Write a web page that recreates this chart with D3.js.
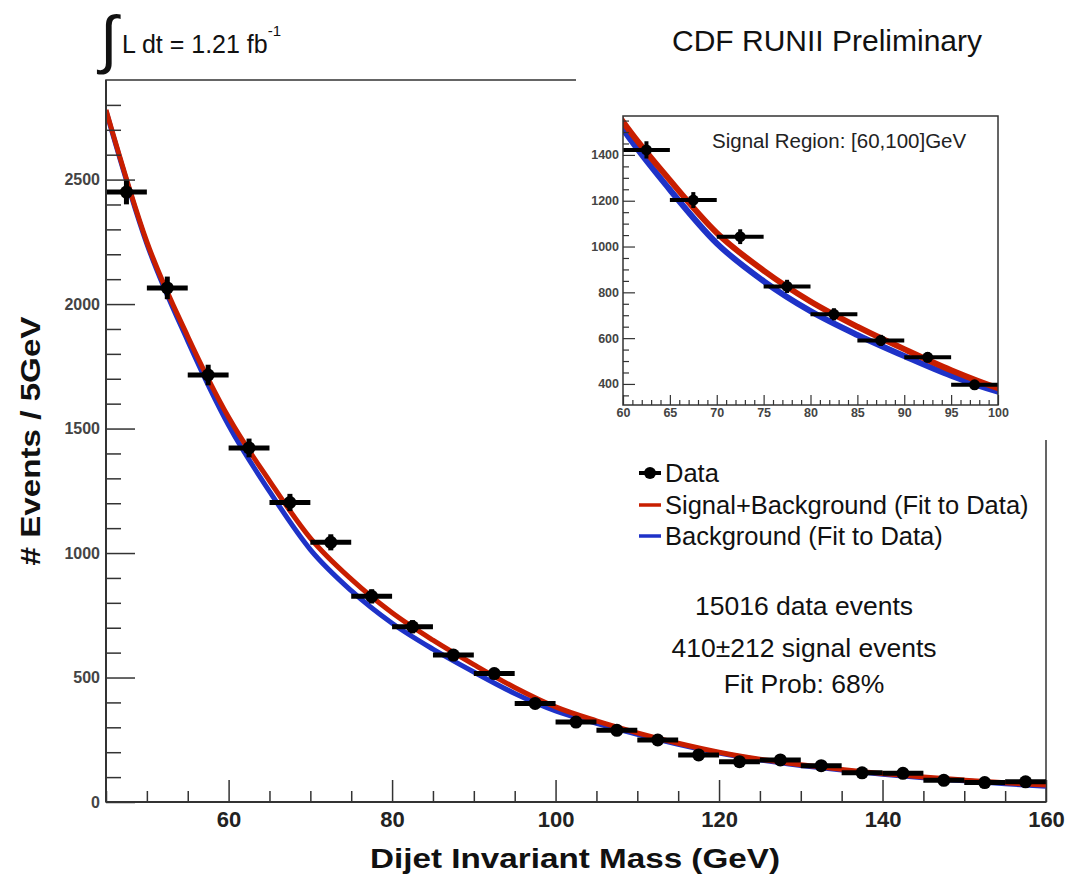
<!DOCTYPE html>
<html>
<head>
<meta charset="utf-8">
<script src="https://cdn.jsdelivr.net/npm/d3@7"></script>
<style>
  body { margin: 0; background: #fff; }
  svg text { font-family: "Liberation Sans", Arial, sans-serif; }
</style>
</head>
<body>
<div id="plot"></div>
<script>
// Dijet mass spectrum with fits, plus a zoomed inset of the signal region

// bin centres (5 GeV bins) and the counts in each bin
var binCenters = [47.5, 52.5, 57.5, 62.5, 67.5, 72.5, 77.5, 82.5, 87.5, 92.5, 97.5, 102.5,
  107.5, 112.5, 117.5, 122.5, 127.5, 132.5, 137.5, 142.5, 147.5, 152.5, 157.5];
var counts = [2450, 2065, 1715, 1422, 1203, 1043, 826, 704, 590, 516, 396, 321,
  288, 249, 189, 162, 169, 146, 117, 115, 87, 78, 81];

// fit curves
var fitMass = [45, 50, 55, 60, 65, 70, 75, 80, 85, 90, 95, 100, 105, 110, 115, 120,
  125, 130, 135, 140, 145, 150, 155, 160];
var sigBkg = [2780, 2250, 1870, 1545, 1290, 1060, 895, 760, 650, 552, 460, 382, 326,
  278, 236, 200, 172, 150, 131, 114, 100, 88, 77, 68];
var bkgOnly = [2776, 2242, 1852, 1513, 1248, 1014, 849, 718, 614, 522, 436, 366, 316,
  272, 232, 197, 169, 147, 128, 111, 97, 85, 73, 63];

// ticks
var xMajor = [60, 80, 100, 120, 140, 160];
var yMajor = [0, 500, 1000, 1500, 2000, 2500];
var insetXMajor = [60, 65, 70, 75, 80, 85, 90, 95, 100];
var insetYMajor = [400, 600, 800, 1000, 1200, 1400];

var statLines = ["15016 data events", "410\u00b1212 signal events", "Fit Prob: 68%"];
var legendLabels = ["Data", "Signal+Background (Fit to Data)", "Background (Fit to Data)"];

var width = 1066;
var height = 881;
var redCol = "#c81e00";
var blueCol = "#1e32c8";
var axisCol = "#333";

var svg = d3.select("#plot").append("svg")
  .attr("width", width)
  .attr("height", height);

var data = binCenters.map(function(m, i) {
  return { m: m, n: counts[i] };
});
var fitS = fitMass.map(function(m, i) { return { m: m, v: sigBkg[i] }; });
var fitB = fitMass.map(function(m, i) { return { m: m, v: bkgOnly[i] }; });

// ---------- main frame ----------
var xScale = d3.scaleLinear().domain([45, 160]).range([106, 1046]);
var yScale = d3.scaleLinear().domain([0, 2900]).range([802, 80]);

svg.append("clipPath").attr("id", "mainClip")
  .append("rect").attr("x", 106).attr("y", 80).attr("width", 940).attr("height", 722);

// frame (top + right), the inset pad later covers part of it
svg.append("rect")
  .attr("x", 106).attr("y", 80).attr("width", 940).attr("height", 722)
  .attr("fill", "none").attr("stroke", axisCol).attr("stroke-width", 1.5);

var line = d3.line()
  .x(function(d) { return xScale(d.m); })
  .y(function(d) { return yScale(d.v); })
  .curve(d3.curveMonotoneX);

var curves = svg.append("g").attr("clip-path", "url(#mainClip)");
curves.append("path").datum(fitB)
  .attr("d", line).attr("fill", "none")
  .attr("stroke", blueCol).attr("stroke-width", 5);
curves.append("path").datum(fitS)
  .attr("d", line).attr("fill", "none")
  .attr("stroke", redCol).attr("stroke-width", 5);

// data points with errors
function drawPoints(g, xs, ys, r, lw) {
  var pts = g.selectAll("g.pt").data(data).enter()
    .filter(function(d) { return d.m > xs.domain()[0] && d.m < xs.domain()[1]; })
    .append("g").attr("class", "pt");
  pts.append("line")
    .attr("x1", function(d) { return xs(d.m - 2.5); })
    .attr("x2", function(d) { return xs(d.m + 2.5); })
    .attr("y1", function(d) { return ys(d.n); })
    .attr("y2", function(d) { return ys(d.n); })
    .attr("stroke", "#000").attr("stroke-width", lw);
  pts.append("line")
    .attr("x1", function(d) { return xs(d.m); })
    .attr("x2", function(d) { return xs(d.m); })
    .attr("y1", function(d) { return ys(d.n - Math.sqrt(d.n)); })
    .attr("y2", function(d) { return ys(d.n + Math.sqrt(d.n)); })
    .attr("stroke", "#000").attr("stroke-width", lw);
  pts.append("circle")
    .attr("cx", function(d) { return xs(d.m); })
    .attr("cy", function(d) { return ys(d.n); })
    .attr("r", r).attr("fill", "#000");
}
drawPoints(svg.append("g"), xScale, yScale, 6.5, 5);

// axes: majors + minors, ticks pointing inward
var yMinorVals = d3.range(0, 2900, 100).filter(function(v) { return v % 500 !== 0; });
var xMinorVals = d3.range(45, 161, 5).filter(function(v) { return v % 20 !== 0; });

var yAxisG = svg.append("g").attr("transform", "translate(106,0)")
  .call(d3.axisLeft(yScale).tickValues(yMajor).tickSizeInner(-29).tickSizeOuter(0).tickPadding(6)
    .tickFormat(d3.format("d")));
svg.append("g").attr("transform", "translate(106,0)")
  .call(d3.axisLeft(yScale).tickValues(yMinorVals).tickSizeInner(-15).tickSizeOuter(0).tickFormat(""));

var xAxisG = svg.append("g").attr("transform", "translate(0,802)")
  .call(d3.axisBottom(xScale).tickValues(xMajor).tickSizeInner(-22).tickSizeOuter(0).tickPadding(9));
svg.append("g").attr("transform", "translate(0,802)")
  .call(d3.axisBottom(xScale).tickValues(xMinorVals).tickSizeInner(-11).tickSizeOuter(0).tickFormat(""));

svg.selectAll(".domain").remove();
svg.selectAll(".tick line").attr("stroke", axisCol).attr("stroke-width", 1.5);
yAxisG.selectAll("text").attr("font-size", 16).attr("font-weight", "bold").attr("fill", "#444");
xAxisG.selectAll("text").attr("font-size", 22).attr("font-weight", "bold").attr("fill", "#222");

// axis lines drawn last so they sit over the tick ends
svg.append("line").attr("x1", 106).attr("x2", 106).attr("y1", 80).attr("y2", 802)
  .attr("stroke", axisCol).attr("stroke-width", 2);
svg.append("line").attr("x1", 106).attr("x2", 1046).attr("y1", 802).attr("y2", 802)
  .attr("stroke", axisCol).attr("stroke-width", 2);

// axis titles - the original font is a wide one, so stretch to its length
svg.append("text")
  .attr("x", 575).attr("y", 868)
  .attr("text-anchor", "middle")
  .attr("font-size", 27).attr("font-weight", "bold").attr("fill", "#111")
  .attr("textLength", 410).attr("lengthAdjust", "spacingAndGlyphs")
  .text("Dijet Invariant Mass (GeV)");
svg.append("text")
  .attr("transform", "translate(40,441)rotate(-90)")
  .attr("text-anchor", "middle")
  .attr("font-size", 27).attr("font-weight", "bold").attr("fill", "#111")
  .attr("textLength", 249).attr("lengthAdjust", "spacingAndGlyphs")
  .text("# Events / 5GeV");

// ---------- legend + fit numbers ----------
var legY = [473, 505, 536];
var leg = svg.append("g");
leg.append("line").attr("x1", 639).attr("x2", 661).attr("y1", legY[0]).attr("y2", legY[0])
  .attr("stroke", "#000").attr("stroke-width", 4);
leg.append("circle").attr("cx", 650).attr("cy", legY[0]).attr("r", 6).attr("fill", "#000");
leg.append("line").attr("x1", 639).attr("x2", 661).attr("y1", legY[1]).attr("y2", legY[1])
  .attr("stroke", redCol).attr("stroke-width", 3.5);
leg.append("line").attr("x1", 639).attr("x2", 661).attr("y1", legY[2]).attr("y2", legY[2])
  .attr("stroke", blueCol).attr("stroke-width", 3.5);
leg.selectAll("text.lab").data(legendLabels).enter()
  .append("text").attr("class", "lab")
  .attr("x", 665)
  .attr("y", function(d, i) { return legY[i] + 9; })
  .attr("font-size", 25.5).attr("fill", "#111")
  .text(function(d) { return d; });

var statY = [615, 657, 693];
svg.selectAll("text.stat").data(statLines).enter()
  .append("text").attr("class", "stat")
  .attr("x", 804)
  .attr("y", function(d, i) { return statY[i]; })
  .attr("text-anchor", "middle")
  .attr("font-size", 26.5).attr("fill", "#111")
  .text(function(d) { return d; });

// ---------- inset pad ----------
svg.append("rect").attr("x", 576).attr("y", 0).attr("width", 490).attr("height", 440)
  .attr("fill", "#fff");

var ix = d3.scaleLinear().domain([60, 100]).range([623, 998]);
var iy = d3.scaleLinear().domain([308, 1570]).range([405, 116]);

svg.append("clipPath").attr("id", "insetClip")
  .append("rect").attr("x", 623).attr("y", 116).attr("width", 375).attr("height", 289);

var iline = d3.line()
  .x(function(d) { return ix(d.m); })
  .y(function(d) { return iy(d.v); })
  .curve(d3.curveMonotoneX);

var inset = svg.append("g");
var icurves = inset.append("g").attr("clip-path", "url(#insetClip)");
icurves.append("path").datum(fitB)
  .attr("d", iline).attr("fill", "none")
  .attr("stroke", blueCol).attr("stroke-width", 6);
icurves.append("path").datum(fitS)
  .attr("d", iline).attr("fill", "none")
  .attr("stroke", redCol).attr("stroke-width", 6);
drawPoints(inset.append("g"), ix, iy, 5.5, 4);

var iyMinor = d3.range(350, 1570, 50).filter(function(v) { return v % 200 !== 0; });
var ixMinor = d3.range(60, 101, 1).filter(function(v) { return v % 5 !== 0; });

var iyAxis = inset.append("g").attr("transform", "translate(623,0)")
  .call(d3.axisLeft(iy).tickValues(insetYMajor).tickSizeInner(-12).tickSizeOuter(0).tickPadding(4)
    .tickFormat(d3.format("d")));
inset.append("g").attr("transform", "translate(623,0)")
  .call(d3.axisLeft(iy).tickValues(iyMinor).tickSizeInner(-6).tickSizeOuter(0).tickFormat(""));
var ixAxis = inset.append("g").attr("transform", "translate(0,405)")
  .call(d3.axisBottom(ix).tickValues(insetXMajor).tickSizeInner(-10).tickSizeOuter(0).tickPadding(3));
inset.append("g").attr("transform", "translate(0,405)")
  .call(d3.axisBottom(ix).tickValues(ixMinor).tickSizeInner(-5).tickSizeOuter(0).tickFormat(""));

inset.selectAll(".domain").remove();
inset.selectAll(".tick line").attr("stroke", axisCol).attr("stroke-width", 1.2);
iyAxis.selectAll("text").attr("font-size", 12.5).attr("font-weight", "bold").attr("fill", "#444");
ixAxis.selectAll("text").attr("font-size", 12.5).attr("font-weight", "bold").attr("fill", "#444");

inset.append("rect")
  .attr("x", 623).attr("y", 116).attr("width", 375).attr("height", 289)
  .attr("fill", "none").attr("stroke", axisCol).attr("stroke-width", 1.5);

inset.append("text")
  .attr("x", 712).attr("y", 148)
  .attr("font-size", 20.5).attr("fill", "#222")
  .text("Signal Region: [60,100]GeV");

// ---------- header texts ----------
svg.append("text")
  .attr("x", 672).attr("y", 51)
  .attr("font-size", 30).attr("fill", "#111")
  .text("CDF RUNII Preliminary");

svg.append("text")
  .attr("x", 100).attr("y", 61)
  .attr("font-family", "DejaVu Sans")
  .attr("font-size", 64).attr("fill", "#111")
  .text("\u222b");
var lumi = svg.append("text")
  .attr("x", 122).attr("y", 53)
  .attr("font-size", 25).attr("fill", "#111");
lumi.append("tspan").text("L dt = 1.21 fb");
lumi.append("tspan").attr("dy", -17).attr("font-size", 15).text("-1");
</script>
</body>
</html>
